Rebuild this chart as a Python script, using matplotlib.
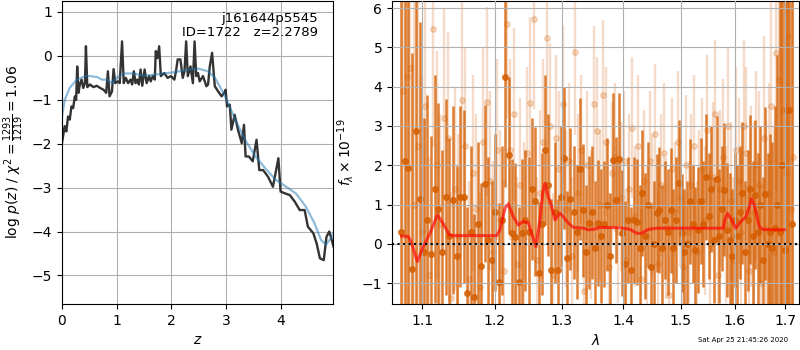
"""Redshift fit summary: log p(z) and the 1D grism spectrum."""
import numpy as np
import matplotlib
matplotlib.use('Agg')
import matplotlib.pyplot as plt
from matplotlib.ticker import FixedLocator, NullLocator, FixedFormatter

# ---- left panel: log p(z) ----
z_pdf = [0.0, 0.049, 0.08, 0.111, 0.142, 0.173, 0.204, 0.235, 0.259, 0.278, 0.302, 0.327,
         0.358, 0.389, 0.42, 0.438, 0.463, 0.512, 0.574, 0.636, 0.698, 0.759, 0.809, 0.84,
         0.87, 0.914, 0.944, 0.975, 1.019, 1.056, 1.099, 1.13, 1.167, 1.21, 1.253, 1.284,
         1.315, 1.346, 1.377, 1.407, 1.438, 1.469, 1.512, 1.549, 1.593, 1.623, 1.66, 1.698,
         1.716, 1.747, 1.778, 1.809, 1.87, 1.932, 1.994, 2.056, 2.086, 2.117, 2.167, 2.21,
         2.241, 2.272, 2.302, 2.352, 2.395, 2.426, 2.457, 2.488, 2.519, 2.58, 2.642, 2.673,
         2.704, 2.747, 2.796, 2.858, 2.92, 2.969, 2.994, 3.02, 3.07, 3.10, 3.16, 3.22, 3.29,
         3.33, 3.36, 3.42, 3.49, 3.56, 3.61, 3.68, 3.77, 3.86, 3.96, 4.00, 4.08, 4.17, 4.26,
         4.35, 4.44, 4.50, 4.60, 4.66, 4.72, 4.79, 4.84, 4.89, 4.93, 4.97]
logp = [-1.98, -1.60, -1.72, -1.38, -1.45, -1.15, -1.19, -0.92, -1.0, -0.24, -0.84, -0.65,
        -0.54, -0.73, -0.62, 0.22, -0.71, -0.65, -0.71, -0.68, -0.73, -0.77, -0.84, -0.35,
        -0.92, -0.81, -0.30, -0.62, -0.58, -0.62, 0.33, -0.62, -0.50, -0.62, -0.54, -0.65,
        -0.35, -0.62, -0.54, -0.65, -0.31, -0.68, -0.31, -0.62, -0.46, -0.58, -0.46, -0.54,
        0.11, -0.05, 0.22, -0.46, -0.39, -0.50, -0.46, -0.54, -0.35, -0.08, -0.08, -0.50,
        -0.35, 0.33, -0.46, -0.24, -0.62, 0.33, -0.46, -0.39, -0.58, -0.46, -0.69, -0.65,
        -0.24, 0.07, -0.69, -0.81, -0.92, -0.84, -0.77, -1.15, -1.11, -1.68, -1.34, -1.68, -1.99,
        -1.57, -2.29, -2.29, -2.40, -1.91, -2.60, -2.60, -2.75, -2.98, -2.33, -3.09, -3.13, -3.17,
        -3.32, -3.51, -3.51, -3.89, -4.04, -4.27, -4.61, -4.65, -4.12, -4.00, -4.16, -4.35]

z_smooth = [0.0, 0.05, 0.14, 0.27, 0.45, 0.64, 0.73, 0.82, 0.91, 1.0, 1.13, 1.31, 1.5, 1.69,
            1.87, 2.06, 2.24, 2.49, 2.67, 2.8, 2.92, 3.04, 3.17, 3.35, 3.54, 3.72, 3.91, 4.09,
            4.28, 4.46, 4.62, 4.74, 4.83, 4.92, 5.0]
logp_smooth = [-1.38, -1.0, -0.73, -0.54, -0.45, -0.48, -0.54, -0.54, -0.62, -0.5, -0.4, -0.4,
               -0.45, -0.43, -0.4, -0.37, -0.33, -0.29, -0.35, -0.5, -0.77, -1.07, -1.45, -1.91,
               -2.29, -2.56, -2.82, -2.97, -3.13, -3.43, -3.81, -4.19, -4.3, -4.15, -3.96]

# ---- right panel: spectrum (two grism orientations + model) ----
lam_dark = np.linspace(1.072, 1.714, 131)
flux_dark = [0.3, 2.1, 1.92, -0.64, 2.87, 1.15,
             -0.2, 0.6, -0.25, 1.39, 0.88, -0.2, 1.19, 0.2, 1.12, -0.32,
             1.2, 1.2, -1.25, 0.3, -1.34, 0.5, -0.56, 1.53, 0.1, -0.41,
             0.8, -0.96, 0.6, 4.25, 2.25, 0.27, 0.17, -0.96, 0.27, 0.6,
             0.3, 1.4, 1.08, -0.73, 0.5, 2.39, 1.5, -0.66, 0.8, -0.66,
             1.2, 2.18, -0.36, 1.14, 0.8, 0.3, 1.9, 0.85, -0.2, 0.54,
             0.8, -0.1, 0.54, 0.2, 0.5, 1.0, -0.3, 2.14, 1.12, 2.15,
             0.27, -0.5, 0.6, -0.66, 0.6, 0.55, -0.1, 1.3, 0.2, 1.0,
             -0.58, 0.0, 0.78, 0.87, -0.1, 0.6, 0.3, 0.85, -0.1, 0.6,
             1.56, 0.27, -0.2, 0.0, 1.08, 0.5, -0.15, 0.35, 1.1, 0.5,
             1.71, 0.7, 1.4, 0.1, 1.66, 0.2, 0.9, 1.38, 0.35, 0.1,
             -0.3, 0.6, 0.2, 0.8, 1.3, -0.2, 0.6, 1.39, 0.2, 1.25,
             0.3, 1.0, -0.4, 1.28, 0.0, 0.3, -0.1, 0.4, 1.0, 0.3,
             2.0, -0.15, 3.41, 3.41, 0.5]
err_dark = [9, 7, 6, 5.5, 5, 4.5,
            3.4, 3.2, 3.0, 2.9, 2.7, 2.6, 2.5, 2.5, 2.4, 2.3,
            2.3, 2.2, 2.2, 2.2, 2.1, 2.1, 2.1, 2.0, 2.1, 2.0,
            2.0, 2.0, 1.9, 2.8, 2.0, 1.9, 1.9, 1.9, 1.9, 1.8,
            1.9, 1.8, 1.9, 1.8, 1.8, 1.9, 1.8, 1.8, 1.8, 1.8,
            1.8, 1.8, 1.7, 1.8, 1.7, 1.7, 1.8, 1.7, 1.7, 1.7,
            1.7, 1.7, 1.6, 1.7, 1.6, 1.7, 1.6, 1.7, 1.6, 1.7,
            1.6, 1.6, 1.6, 1.6, 1.6, 1.6, 1.6, 1.6, 1.6, 1.6,
            1.6, 1.6, 1.5, 1.6, 1.6, 1.5, 1.6, 1.6, 1.5, 1.6,
            1.6, 1.5, 1.6, 1.6, 1.6, 1.5, 1.6, 1.6, 1.6, 1.6,
            1.6, 1.6, 1.6, 1.6, 1.6, 1.7, 1.6, 1.7, 1.7, 1.7,
            1.7, 1.7, 1.8, 1.7, 1.8, 1.8, 1.8, 1.9, 1.9, 1.9,
            2.0, 2.0, 2.1, 2.2, 2.3, 2.5, 2.7, 3.1, 3.8, 6.0,
            7, 8, 9, 9, 10]

lam_light = np.linspace(1.0745, 1.7165, 131)
flux_light = [3.9, 4.25, 4.47, 1.0, 2.5, 0.3,
              3.5, -0.8, 5.46, 2.0, 0.5, 3.2, 2.7, -1.38, 1.4, 0.2,
              3.66, 2.5, -0.9, 1.8, 0.9, -1.1, 2.6, 3.62, 1.6, -0.2,
              2.4, 0.6, -0.7, 5.6, 2.4, 3.3, -0.5, 1.5, 0.4, 2.3,
              3.58, 5.72, -0.4, 1.3, 2.6, 5.23, 3.0, -0.8, 2.7, 1.9,
              3.55, 0.9, 2.1, -0.3, 4.87, 1.3, 2.4, -1.2, 2.0, 0.5,
              3.55, 2.86, 1.0, 3.79, 2.6, -0.6, 1.8, 2.2, 0.3, 1.2,
              2.1, -0.4, 1.4, 2.96, 0.7, 2.5, -0.9, 1.6, 0.2, 2.1,
              1.0, 2.79, -0.5, 1.5, 2.3, 0.4, -1.3, 1.9, 0.8, 2.6,
              1.2, -0.6, 2.0, 0.3, 1.5, 2.5, -0.2, 1.1, 1.9, 0.6,
              2.9, 0.0, 1.7, 3.3, -0.8, 1.4, 2.2, 0.5, 3.0, 1.1,
              -0.4, 2.4, 1.6, 0.3, 3.0, 2.3, -0.7, 1.2, 0.8, 2.0,
              1.5, -1.0, 2.7, 0.4, 1.3, 3.5, -0.2, 4.85, 4.17, 2.0,
              3.4, 1.8, 5.3, 0.9, 2.2]
err_light = [9, 8, 7, 6, 5, 4,
             3.2, 3.0, 3.0, 2.9, 2.8, 2.8, 2.7, 2.7, 2.6, 2.6,
             2.6, 2.5, 2.5, 2.5, 2.4, 2.4, 2.4, 2.4, 2.3, 2.3,
             2.3, 2.3, 2.3, 2.4, 2.3, 2.2, 2.2, 2.2, 2.2, 2.2,
             2.2, 2.3, 2.1, 2.1, 2.1, 2.2, 2.1, 2.1, 2.1, 2.0,
             2.0, 2.0, 2.0, 2.0, 2.1, 2.0, 1.9, 2.0, 1.9, 1.9,
             2.0, 1.9, 1.9, 1.9, 1.9, 1.9, 1.8, 1.9, 1.8, 1.9,
             1.8, 1.8, 1.9, 1.8, 1.8, 1.8, 1.8, 1.8, 1.8, 1.8,
             1.8, 1.8, 1.8, 1.8, 1.8, 1.8, 1.8, 1.8, 1.8, 1.8,
             1.8, 1.8, 1.8, 1.8, 1.8, 1.8, 1.8, 1.8, 1.8, 1.9,
             1.9, 1.9, 1.9, 1.9, 1.9, 2.0, 2.0, 2.0, 2.0, 2.0,
             2.1, 2.1, 2.1, 2.1, 2.2, 2.2, 2.2, 2.3, 2.3, 2.4,
             2.4, 2.5, 2.6, 2.7, 2.8, 3.0, 3.2, 3.5, 4.0, 6.0,
             7, 8, 9, 9, 10]

lam_model = [1.0730, 1.0816, 1.0860, 1.0934, 1.1013, 1.1102, 1.1200, 1.1281, 1.1362, 1.1417,
             1.1648, 1.2026, 1.2075, 1.2147, 1.2196, 1.2269, 1.2343, 1.2417, 1.2492, 1.2542,
             1.2607, 1.2668, 1.2709, 1.2744, 1.2795, 1.2847, 1.2898, 1.2976, 1.3028, 1.3106,
             1.3185, 1.3345, 1.3426, 1.3507, 1.3616, 1.3946, 1.4114, 1.4227, 1.4312, 1.4428,
             1.4573, 1.5785, 1.5815, 1.5866, 1.5942, 1.6025, 1.6122, 1.6219, 1.6265, 1.6330,
             1.6395, 1.6481, 1.6547, 1.6780, 1.6983]
flux_model = [0.20, 0.19, 0.02, -0.45, -0.07, 0.27, 0.74, 0.51, 0.23, 0.21,
              0.21, 0.21, 0.36, 0.90, 1.02, 0.69, 0.48, 0.57, 0.53, 0.27,
              -0.07, 0.61, 1.29, 1.54, 1.20, 0.95, 0.61, 0.78, 0.69, 0.53,
              0.42, 0.40, 0.36, 0.37, 0.42, 0.41, 0.37, 0.27, 0.27, 0.37,
              0.40, 0.40, 0.61, 0.78, 0.61, 0.40, 0.57, 0.69, 0.86, 1.14,
              0.95, 0.44, 0.37, 0.36, 0.36]

fig = plt.figure(figsize=(8, 3.5), dpi=100)
ax = fig.add_axes([0.0775, 0.1314, 0.3388, 0.8657])
ax.plot(z_pdf, logp, color='0.2', lw=1.7)
ax.plot(z_smooth, logp_smooth, color='tab:blue', alpha=0.5, lw=1.6)
ax.set_xlim(0, 4.96)
ax.set_ylim(-5.65, 1.25)
ax.set_xticks([0, 1, 2, 3, 4])
ax.set_yticks([-5, -4, -3, -2, -1, 0, 1])
ax.grid()
ax.set_xlabel('$z$')
ax.set_ylabel(r'log $p(z)$ / $\chi^2=\frac{1293}{1219}=1.06$')
ax.text(0.945, 0.965, 'j161644p5545\nID=1722   z=2.2789', ha='right', va='top',
        transform=ax.transAxes, fontsize=9.5, linespacing=1.1)

ax2 = fig.add_axes([0.49, 0.1314, 0.5088, 0.8657])
grism_color = (0.835, 0.369, 0.0)
ax2.errorbar(lam_light, flux_light, err_light, color=grism_color, alpha=0.22,
             marker='o', ms=4, ls='none', elinewidth=1.7, zorder=1)
ax2.errorbar(lam_dark, flux_dark, err_dark, color=grism_color, alpha=0.8,
             marker='o', ms=4, ls='none', elinewidth=1.8, zorder=2)
ax2.plot(lam_model, flux_model, color='r', alpha=0.65, lw=2.2, zorder=4)
ax2.axhline(0, color='k', ls=':', lw=1.5, zorder=5)
ax2.set_xscale('log')
ax2.set_xlim(1.0607, 1.7288)
ax2.set_ylim(-1.53, 6.18)
xt = [1.1, 1.2, 1.3, 1.4, 1.5, 1.6, 1.7]
ax2.xaxis.set_major_locator(FixedLocator(xt))
ax2.xaxis.set_major_formatter(FixedFormatter(['%.1f' % v for v in xt]))
ax2.xaxis.set_minor_locator(NullLocator())
ax2.set_yticks([-1, 0, 1, 2, 3, 4, 5, 6])
ax2.grid()
ax2.set_axisbelow(False)
ax2.set_xlabel(r'$\lambda$')
ax2.set_ylabel(r'$f_\lambda\times10^{-19}$')

fig.text(0.985, 0.02, 'Sat Apr 25 21:45:26 2020', ha='right', va='bottom', fontsize=5)

fig.savefig('out.png', dpi=100)
